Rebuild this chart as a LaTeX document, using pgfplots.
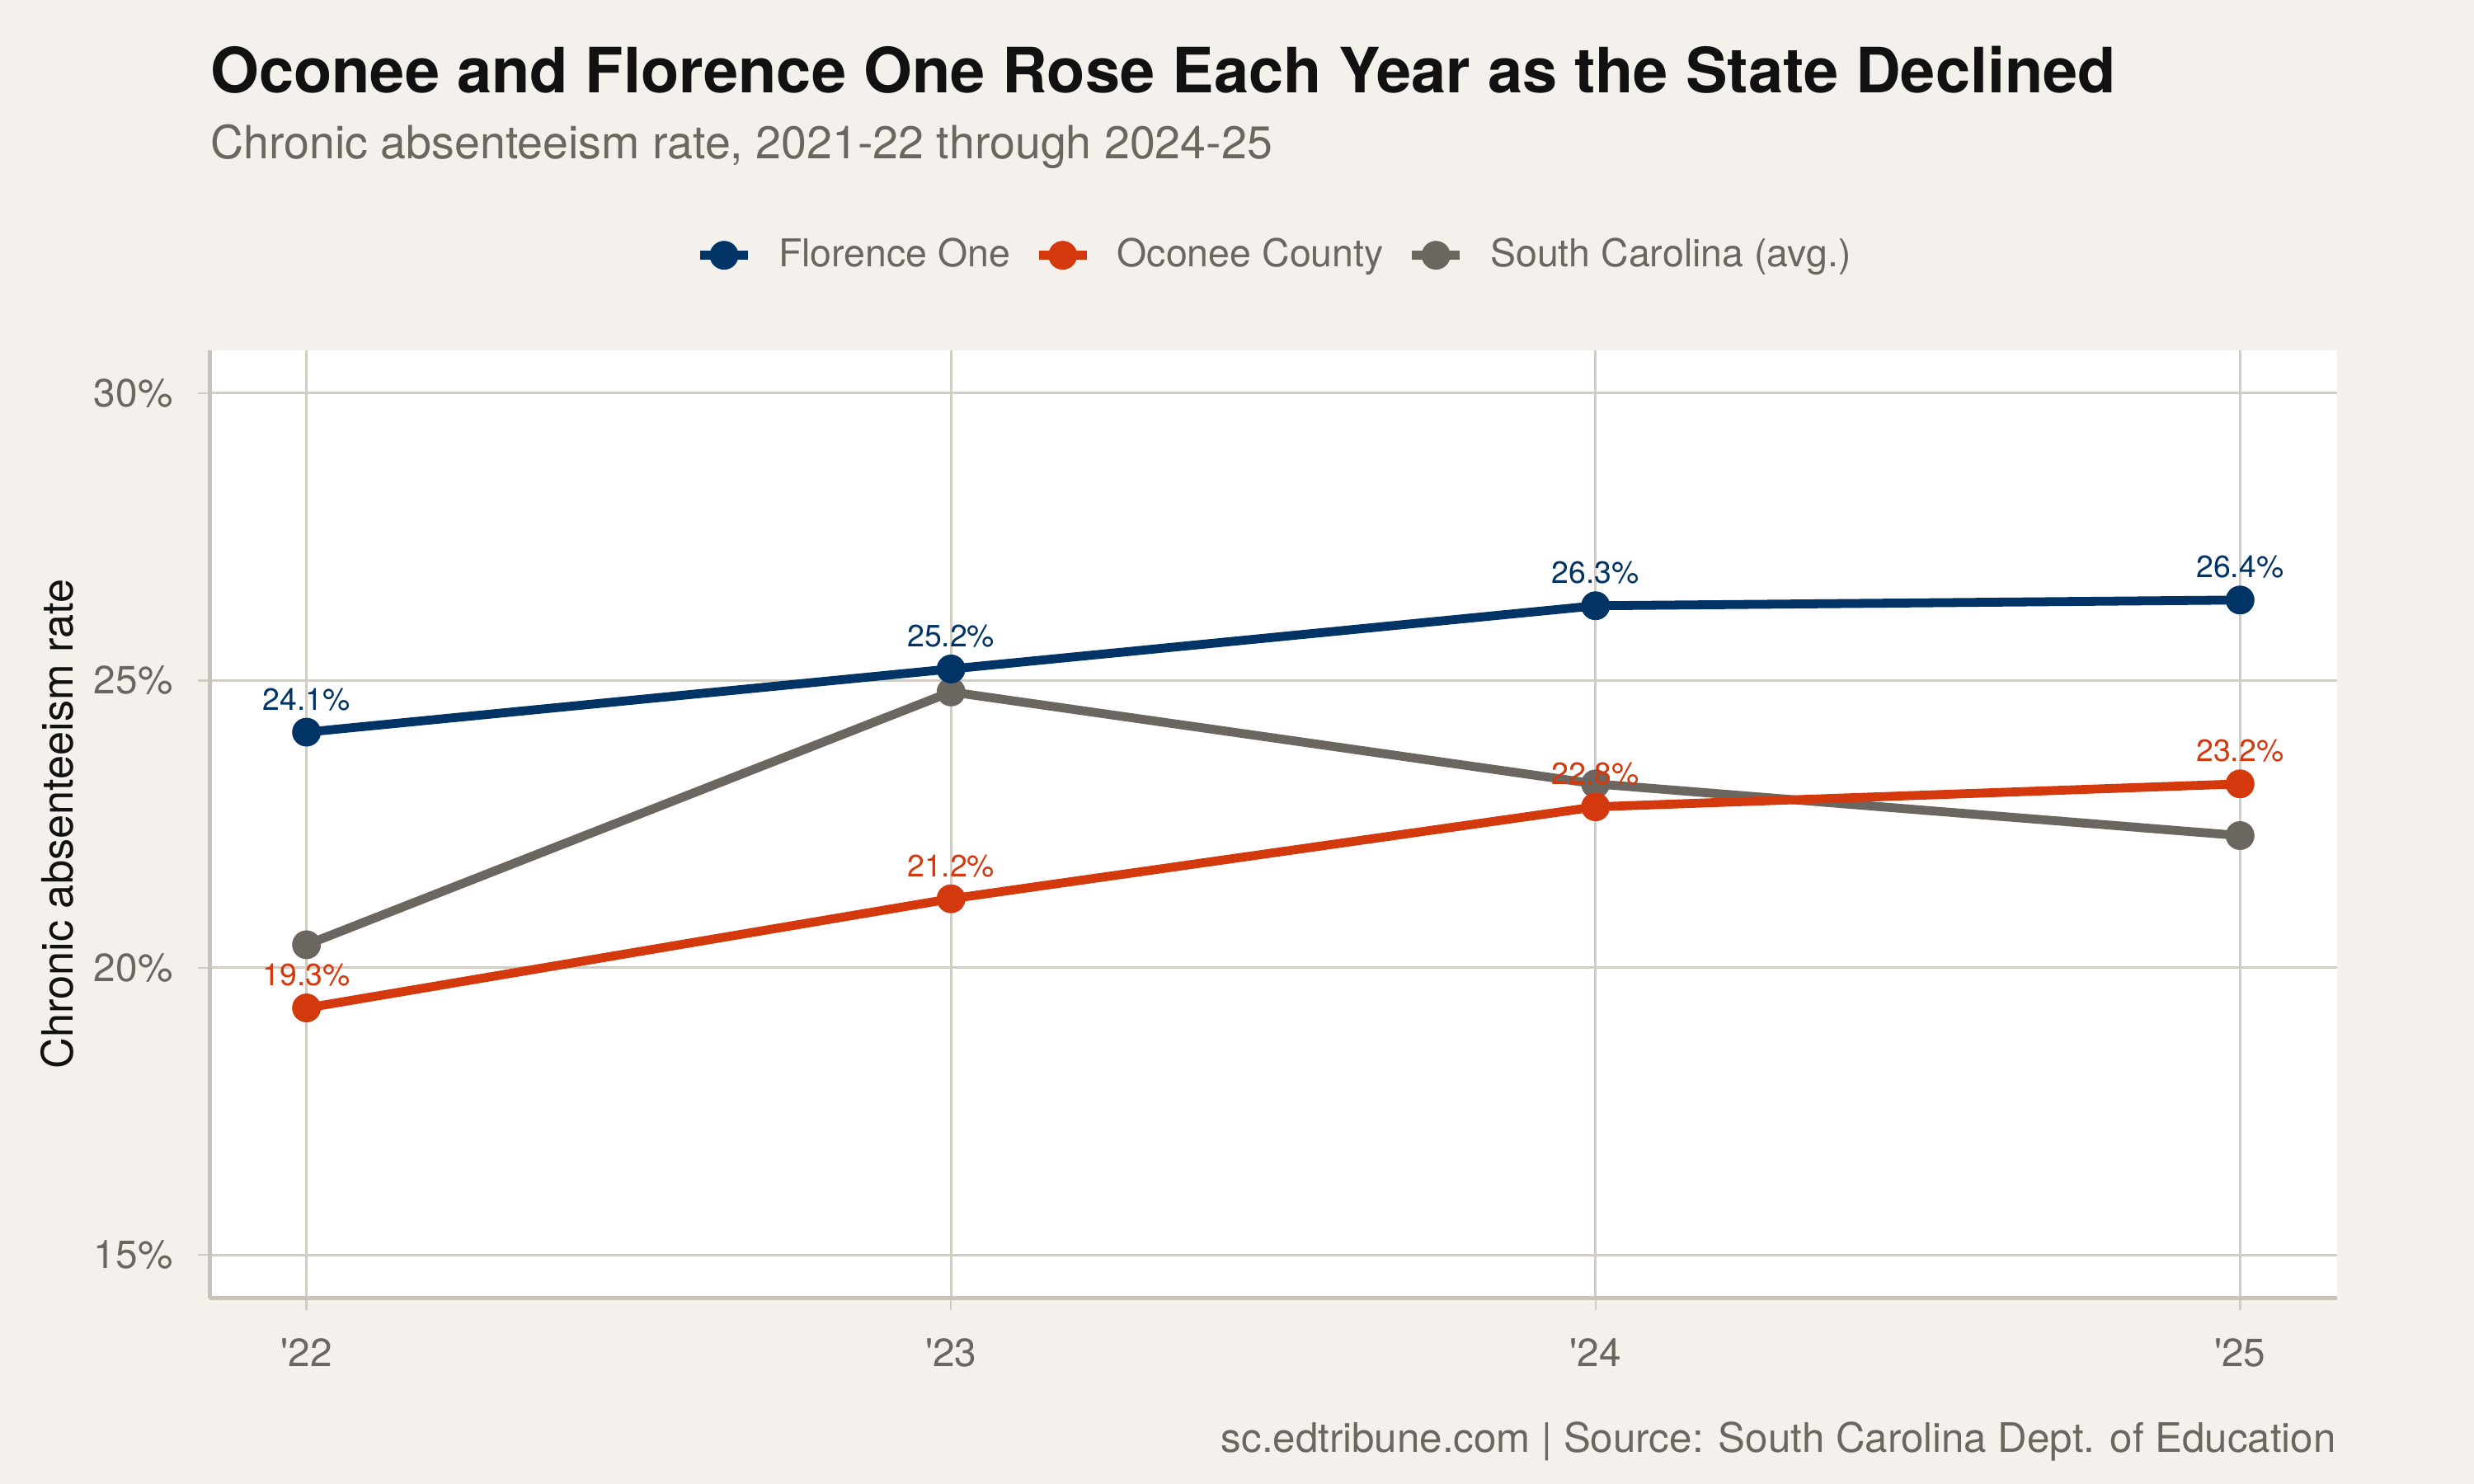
\documentclass[border=0pt]{standalone}
\usepackage{fontspec}
\setmainfont{TeX Gyre Heros}
\usepackage{pgfplots}
\usepackage{pgfplotstable}
\pgfplotsset{compat=1.18}

\definecolor{paper}{HTML}{F4F1EC}
\definecolor{florence}{HTML}{003366}
\definecolor{oconee}{HTML}{D4380D}
\definecolor{state}{HTML}{6B6660}
\definecolor{gridline}{HTML}{D2CDC4}
\definecolor{axisline}{HTML}{C9C3B9}
\definecolor{inkgray}{HTML}{6B6660}
\definecolor{ink}{HTML}{111111}

% Chronic absenteeism rate (%), school years ending 2022-2025
\pgfplotstableread{
x florence oconee state
0 24.1 19.3 20.4
1 25.2 21.2 24.8
2 26.3 22.8 23.2
3 26.4 23.2 22.3
}\rates

\newcommand{\pct}{\pgfmathprintnumber[fixed,fixed zerofill,precision=1]{\pgfplotspointmeta}\%}

\begin{document}
\begin{tikzpicture}
\fill[paper] (0,0) rectangle (722.7pt,433.6pt);

\begin{axis}[
  at={(61.3pt,54.3pt)}, anchor=south west,
  scale only axis, width=621.3pt, height=277pt,
  xmin=-0.15, xmax=3.15, ymin=14.25, ymax=30.75,
  axis background/.style={fill=white},
  axis lines*=left,
  axis line style={axisline, line width=1pt, -},
  tick align=outside,
  major tick length=3.6pt,
  tick style={gridline, line width=0.6pt},
  grid=major,
  major grid style={gridline, line width=0.75pt},
  xtick={0,1,2,3},
  xticklabels={\textquotesingle 22,\textquotesingle 23,\textquotesingle 24,\textquotesingle 25},
  ytick={15,20,25,30},
  yticklabels={15\%,20\%,25\%,30\%},
  ticklabel style={font=\fontsize{11.5}{13}\selectfont, text=inkgray},
  xticklabel style={yshift=-4.6pt},
  yticklabel style={xshift=-3.7pt},
  /pgf/number format/assume math mode=true,
  legend columns=-1,
  legend style={
    at={(0.5,1.100)}, anchor=center,
    draw=none, fill=none,
    font=\fontsize{11.2}{13}\selectfont, text=inkgray,
    nodes={inner xsep=0pt},
    /tikz/every odd column/.append style={column sep=7.6pt},
    /tikz/every even column/.append style={column sep=7.0pt},
  },
  legend image code/.code={
    \draw[#1, mark repeat=2, mark phase=2]
      plot coordinates {(0pt,0pt) (7pt,0pt) (14pt,0pt)};
  },
  every axis plot/.append style={line width=2.6pt, line join=round, mark=*, mark size=4.1pt,
    mark options={solid, line width=0.2pt}},
  point meta=y,
  clip=false,
]
\addlegendimage{florence}
\addlegendentry{Florence One}
\addlegendimage{oconee}
\addlegendentry{Oconee County}
\addlegendimage{state}
\addlegendentry{South Carolina (avg.)}

\addplot[state, forget plot] table[x=x, y=state] {\rates};

\addplot[oconee, forget plot,
  nodes near coords={\pct},
  every node near coord/.append style={font=\fontsize{9}{10}\selectfont, text=oconee, anchor=base, inner sep=0pt, yshift=6.5pt}]
  table[x=x, y=oconee] {\rates};

\addplot[florence, forget plot,
  nodes near coords={\pct},
  every node near coord/.append style={font=\fontsize{9}{10}\selectfont, text=florence, anchor=base, inner sep=0pt, yshift=6.5pt}]
  table[x=x, y=florence] {\rates};
\end{axis}

\node[anchor=base west, inner sep=0pt, text=ink, font=\fontsize{18.25}{21}\selectfont\bfseries]
  at (61.3pt,406.5pt) {Oconee and Florence One Rose Each Year as the State Declined};
\node[anchor=base west, inner sep=0pt, text=inkgray, font=\fontsize{13.38}{15}\selectfont]
  at (61.3pt,387.2pt) {Chronic absenteeism rate, 2021-22 through 2024-25};
\node[anchor=base, rotate=90, inner sep=0pt, text=ink, font=\fontsize{12.6}{14}\selectfont]
  at (21.4pt,192.8pt) {Chronic absenteeism rate};
\node[anchor=base east, inner sep=0pt, text=inkgray, font=\fontsize{11.87}{14}\selectfont]
  at (682.6pt,9.2pt) {sc.edtribune.com | Source: South Carolina Dept. of Education};
\end{tikzpicture}
\end{document}
